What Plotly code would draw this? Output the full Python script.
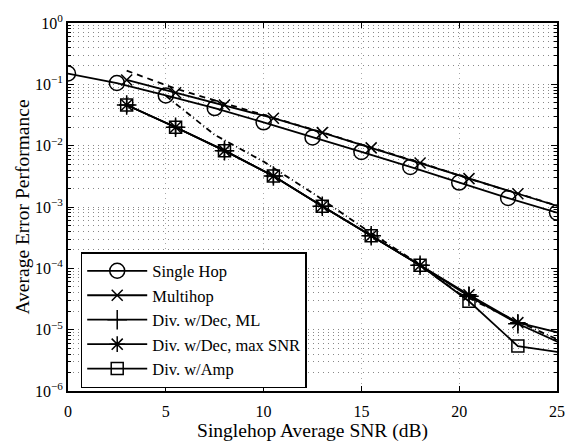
import plotly.graph_objects as go

# ---- data ----
x_single = [0, 2.5, 5, 7.5, 10, 12.5, 15, 17.5, 20, 22.5, 25]
y_single = [0.150, 0.105, 0.066, 0.041, 0.024, 0.0136, 0.0079, 0.0045, 0.0025, 0.0014, 0.00081]

x_relay = [3, 5.5, 8, 10.5, 13, 15.5, 18, 20.5, 23, 25.5]
y_multihop = [0.118, 0.073, 0.046, 0.028, 0.0163, 0.0092, 0.0052, 0.0029, 0.00165, 0.00093]
y_dec_ml = [0.046, 0.020, 0.0083, 0.0032, 0.00103, 0.00034, 0.000112, 3.5e-5, 1.25e-5, 5.4e-6]
y_dec_maxsnr = [0.046, 0.020, 0.0083, 0.0032, 0.00103, 0.00034, 0.000112, 3.7e-5, 1.3e-5, 8.3e-6]
y_amp = [0.046, 0.020, 0.0083, 0.0032, 0.00103, 0.00034, 0.000112, 2.9e-5, 5.4e-6, 4.1e-6]

# unlabeled dashed curves
y_dashed_upper = [0.167, 0.085, 0.049, 0.0285, 0.0165, 0.0093, 0.0053, 0.0029, 0.00166, 0.00094]
x_dashdot = [5, 7.5, 10, 12.5, 15, 17.5, 20, 22.5, 25]
y_dashdot = [0.065, 0.015, 0.0055, 0.0017, 0.00048, 0.000145, 3.9e-5, 1.6e-5, 7e-6]

y_tickvals = [1e-6, 1e-5, 1e-4, 1e-3, 1e-2, 1e-1, 1]
y_ticktext = ["10<sup>−6</sup>", "10<sup>−5</sup>", "10<sup>−4</sup>", "10<sup>−3</sup>",
              "10<sup>−2</sup>", "10<sup>−1</sup>", "10<sup>0</sup>"]
x_tickvals = [0, 5, 10, 15, 20, 25]

FONT = "Liberation Serif"
LW = 1.8
mline = dict(color="black", width=1.5)

fig = go.Figure()

fig.add_trace(go.Scatter(x=x_relay, y=y_dashed_upper, mode="lines",
                         line=dict(color="black", width=LW, dash="6px,5px"), showlegend=False))
fig.add_trace(go.Scatter(x=x_dashdot, y=y_dashdot, mode="lines",
                         line=dict(color="black", width=LW, dash="6px,3px,1px,3px"), showlegend=False))

fig.add_trace(go.Scatter(x=x_single, y=y_single, mode="lines+markers", name="Single Hop",
                         line=dict(color="black", width=LW),
                         marker=dict(symbol="circle-open", size=15, color="black", line=mline)))
fig.add_trace(go.Scatter(x=x_relay, y=y_multihop, mode="lines+markers", name="Multihop",
                         line=dict(color="black", width=LW),
                         marker=dict(symbol="x-thin-open", size=11, color="black", line=mline)))
fig.add_trace(go.Scatter(x=x_relay, y=y_dec_ml, mode="lines+markers", name="Div. w/Dec, ML",
                         line=dict(color="black", width=LW),
                         marker=dict(symbol="cross-thin-open", size=14, color="black", line=mline)))
fig.add_trace(go.Scatter(x=x_relay, y=y_dec_maxsnr, mode="lines+markers", name="Div. w/Dec, max SNR",
                         line=dict(color="black", width=LW),
                         marker=dict(symbol="asterisk-open", size=13, color="black", line=mline)))
fig.add_trace(go.Scatter(x=x_relay, y=y_amp, mode="lines+markers", name="Div. w/Amp",
                         line=dict(color="black", width=LW),
                         marker=dict(symbol="square-open", size=12, color="black", line=mline)))

minor_y = [k * 10.0 ** e for e in range(-6, 0) for k in range(2, 10)]
GRID_DASH = "1px,4px"

fig.update_layout(
    width=579, height=446,
    margin=dict(l=68, r=22, t=13, b=47),
    paper_bgcolor="white", plot_bgcolor="white",
    font=dict(family=FONT, size=16, color="black"),
    legend=dict(x=0.026, y=0.008, xanchor="left", yanchor="bottom",
                bgcolor="white", bordercolor="black", borderwidth=1.5,
                font=dict(family=FONT, size=16.5), itemwidth=60, tracegroupgap=0),
    xaxis=dict(range=[0, 25], tickvals=x_tickvals, ticks="inside", ticklen=5,
               tickcolor="black", linecolor="black", linewidth=2, mirror="allticks",
               showgrid=True, gridcolor="#aaa", griddash=GRID_DASH, gridwidth=1,
               zeroline=False, tickfont=dict(size=16), ticklabelstandoff=5,
               title=dict(text="Singlehop Average SNR (dB)", font=dict(size=19.5), standoff=0)),
    yaxis=dict(type="log", range=[-6, 0], tickvals=y_tickvals, ticktext=y_ticktext,
               ticks="inside", ticklen=6, tickcolor="black", linecolor="black", linewidth=2,
               mirror="allticks", showgrid=True, gridcolor="#888", griddash=GRID_DASH, gridwidth=1,
               zeroline=False, tickfont=dict(size=16),
               minor=dict(tickvals=minor_y, ticks="inside", ticklen=3, tickcolor="black",
                          showgrid=True, gridcolor="#888", griddash=GRID_DASH, gridwidth=1),
               title=dict(text="Average Error Performance", font=dict(size=19.5), standoff=0)),
)

fig.write_html("out.html")
